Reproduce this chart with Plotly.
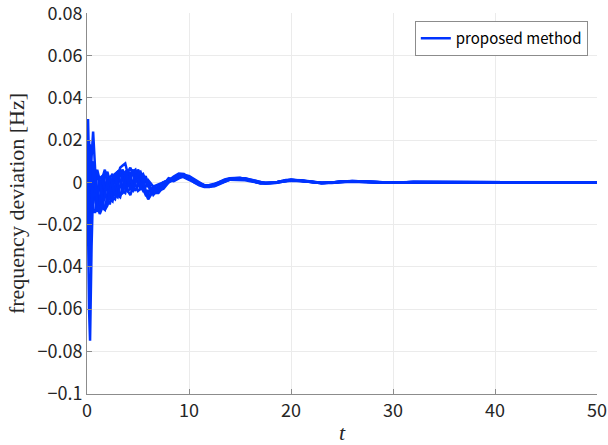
import plotly.graph_objects as go

# time samples [s]
t = [0, 0.1, 0.2, 0.3, 0.45, 0.6, 0.8, 1.0, 1.25, 1.5, 1.75, 2.0, 2.25, 2.5, 2.75,
     3.0, 3.25, 3.5, 3.75, 4.0, 4.25, 4.5, 4.75, 5.0, 5.25, 5.5, 5.75, 6.0, 6.5,
     7.0, 7.5, 8.0,
     8.5, 9, 9.5, 10, 10.5, 11, 11.5, 12, 12.5, 13, 13.5, 14, 14.5, 15, 15.5, 16,
     16.5, 17, 17.5, 18, 18.5, 19, 19.5, 20, 21, 22, 23, 24, 25, 26, 28, 30, 32,
     35, 40, 45, 50]

# frequency deviation of each generator [Hz]
gen1 = [0, 0.030, 0.008, -0.012, -0.010, 0.004, 0.006, -0.004, -0.010, -0.006, 0.003,
        0.005, 0.000, -0.007, -0.008, -0.002, 0.004, 0.006, 0.002, -0.004, -0.006,
        -0.002, 0.003, 0.005, 0.002, -0.003, -0.006, -0.005, -0.002, -0.001, 0.000, 0.001,
        0.0018, 0.0030, 0.0034, 0.0022, 0.0006, -0.0008, -0.0016, -0.0018, -0.0012,
        -0.0002, 0.0009, 0.0016, 0.0017, 0.0019, 0.0016, 0.0010, 0.0003, -0.0002,
        -0.0003, -0.0003, -0.0001, 0.0004, 0.0009, 0.0011, 0.0008, 0.0002, -0.0003,
        -0.0001, 0.0004, 0.0005, 0.0001, -0.0002, 0.0002, 0.0001, 0.0, 0.0, 0.0]
gen2 = [0, -0.020, -0.060, -0.075, -0.030, -0.002, -0.006, -0.012, -0.014, -0.008, -0.002,
        0.002, -0.002, -0.006, -0.004, 0.001, 0.004, 0.003, -0.001, -0.004, -0.003,
        0.001, 0.004, 0.003, 0.000, -0.003, -0.004, -0.004, -0.003, -0.002, 0.000, 0.001,
        0.0008, 0.0022, 0.0029, 0.0024, 0.0010, -0.0004, -0.0012, -0.0015, -0.0012,
        -0.0004, 0.0005, 0.0012, 0.0014, 0.0015, 0.0014, 0.0010, 0.0004, -0.0001,
        -0.0003, -0.0003, -0.0002, 0.0002, 0.0007, 0.0009, 0.0008, 0.0003, -0.0002,
        -0.0002, 0.0003, 0.0004, 0.0002, -0.0001, 0.0001, 0.0001, 0.0, 0.0, 0.0]
gen3 = [0, 0.005, -0.008, -0.004, 0.012, 0.024, 0.006, -0.008, -0.012, -0.004, 0.004,
        0.002, -0.004, -0.008, -0.003, 0.003, 0.007, 0.008, 0.009, 0.004, -0.001,
        -0.002, 0.002, 0.006, 0.004, -0.001, -0.005, -0.008, -0.004, -0.003, -0.001, 0.001,
        0.0028, 0.0042, 0.0040, 0.0020, 0.0000, -0.0014, -0.0022, -0.0022, -0.0012,
        0.0002, 0.0014, 0.0020, 0.0020, 0.0022, 0.0016, 0.0008, 0.0000, -0.0005,
        -0.0005, -0.0004, 0.0000, 0.0006, 0.0011, 0.0012, 0.0007, 0.0000, -0.0004,
        -0.0001, 0.0005, 0.0005, 0.0000, -0.0002, 0.0002, 0.0001, 0.0, 0.0, 0.0]
gen4 = [0, 0.012, 0.020, 0.006, -0.014, -0.012, 0.000, 0.004, -0.002, -0.012, -0.013,
        -0.006, 0.002, 0.004, 0.000, -0.006, -0.007, -0.002, 0.004, 0.006, 0.003,
        -0.002, -0.004, -0.001, 0.003, 0.004, 0.001, -0.002, -0.005, -0.004, -0.001, 0.002,
        0.0014, 0.0026, 0.0031, 0.0021, 0.0006, -0.0007, -0.0014, -0.0016, -0.0011,
        -0.0002, 0.0008, 0.0014, 0.0016, 0.0017, 0.0015, 0.0009, 0.0003, -0.0002,
        -0.0003, -0.0002, -0.0001, 0.0004, 0.0008, 0.0010, 0.0007, 0.0002, -0.0003,
        -0.0001, 0.0003, 0.0004, 0.0001, -0.0001, 0.0002, 0.0001, 0.0, 0.0, 0.0]
gen5 = [0, -0.010, 0.010, 0.018, 0.002, -0.014, -0.014, -0.006, 0.002, 0.003, -0.004,
        -0.010, -0.010, -0.003, 0.004, 0.005, 0.001, -0.004, -0.005, -0.001, 0.004,
        0.006, 0.003, -0.001, -0.003, -0.002, 0.001, 0.000, -0.005, -0.005, -0.002, 0.000,
        0.0012, 0.0028, 0.0037, 0.0028, 0.0011, -0.0006, -0.0016, -0.0020, -0.0016,
        -0.0006, 0.0006, 0.0015, 0.0018, 0.0020, 0.0018, 0.0012, 0.0005, -0.0001,
        -0.0004, -0.0004, -0.0002, 0.0003, 0.0009, 0.0012, 0.0009, 0.0003, -0.0003,
        -0.0002, 0.0004, 0.0006, 0.0002, -0.0002, 0.0002, 0.0001, 0.0, 0.0, 0.0]
gen6 = [0, 0.020, -0.015, -0.020, 0.006, 0.010, -0.004, -0.014, -0.008, 0.002, 0.006,
        0.000, -0.008, -0.009, -0.002, 0.005, 0.006, 0.001, -0.003, -0.002, 0.002,
        0.005, 0.006, 0.002, -0.002, -0.004, -0.002, 0.001, -0.002, -0.004, -0.003, 0.000,
        0.0022, 0.0028, 0.0024, 0.0012, 0.0000, -0.0010, -0.0014, -0.0012, -0.0006,
        0.0002, 0.0010, 0.0013, 0.0012, 0.0013, 0.0010, 0.0005, 0.0000, -0.0003,
        -0.0002, -0.0002, 0.0000, 0.0004, 0.0007, 0.0008, 0.0005, 0.0000, -0.0002,
        0.0000, 0.0003, 0.0003, 0.0000, -0.0001, 0.0001, 0.0, 0.0, 0.0, 0.0]
gen7 = [0, -0.005, 0.015, 0.010, -0.006, -0.010, 0.002, 0.006, 0.001, -0.008,
        -0.013, -0.011, -0.004, 0.002, 0.003, -0.002, -0.006, -0.005, 0.000, 0.005,
        0.007, 0.004, -0.001, -0.004, -0.003, 0.001, 0.003, -0.001, -0.006, -0.003,
        0.000, 0.001,
        0.0020, 0.0034, 0.0036, 0.0020, 0.0003, -0.0011, -0.0019, -0.0020, -0.0013,
        -0.0001, 0.0011, 0.0018, 0.0019, 0.0021, 0.0017, 0.0009, 0.0001, -0.0004,
        -0.0004, -0.0003, 0.0000, 0.0005, 0.0010, 0.0012, 0.0008, 0.0001, -0.0004,
        -0.0001, 0.0004, 0.0005, 0.0001, -0.0002, 0.0002, 0.0001, 0.0, 0.0, 0.0]
gen8 = [0, 0.008, -0.025, -0.040, -0.012, 0.008, 0.002, -0.010, -0.015, -0.012,
        -0.006, 0.000, 0.003, -0.001, -0.006, -0.007, -0.002, 0.004, 0.005, 0.001,
        -0.003, -0.004, 0.000, 0.004, 0.005, 0.002, -0.004, -0.007, -0.003, -0.004,
        -0.002, 0.001,
        0.0006, 0.0020, 0.0032, 0.0030, 0.0015, -0.0002, -0.0014, -0.0020, -0.0018,
        -0.0008, 0.0004, 0.0013, 0.0018, 0.0020, 0.0019, 0.0014, 0.0007, 0.0000,
        -0.0004, -0.0004, -0.0003, 0.0002, 0.0008, 0.0011, 0.0010, 0.0004, -0.0002,
        -0.0003, 0.0003, 0.0006, 0.0003, -0.0002, 0.0001, 0.0001, 0.0, 0.0, 0.0]

generators = [gen1, gen2, gen3, gen4, gen5, gen6, gen7, gen8]

y_ticks = [0.08, 0.06, 0.04, 0.02, 0, -0.02, -0.04, -0.06, -0.08, -0.1]
y_tick_text = ["0.08", "0.06", "0.04", "0.02", "0", "\u22120.02", "\u22120.04",
               "\u22120.06", "\u22120.08", "\u22120.1"]
x_ticks = [0, 10, 20, 30, 40, 50]

BLUE = "rgb(0,51,255)"

fig = go.Figure()
for i, g in enumerate(generators):
    fig.add_trace(go.Scatter(
        x=t, y=g, mode="lines",
        line=dict(color=BLUE, width=2.5),
        name="proposed method",
        showlegend=(i == 0),
    ))

axis_common = dict(
    showline=True, linecolor="#8c8c8c", linewidth=1,
    ticks="inside", ticklen=5, tickcolor="#8c8c8c",
    showgrid=True, gridcolor="#ebebeb", gridwidth=1,
    zeroline=False, mirror=False, automargin=False,
    ticklabeloverflow="allow",
    tickfont=dict(family="Noto Sans CJK JP", size=18, color="#262626"),
)

fig.update_xaxes(
    range=[0, 50], tickmode="array", tickvals=x_ticks,
    title=dict(text="<i>t</i>", font=dict(family="Liberation Serif", size=22, color="#262626"),
               standoff=4),
    **axis_common,
)
fig.update_yaxes(
    range=[-0.1002, 0.0802], tickmode="array", tickvals=y_ticks, ticktext=y_tick_text,
    title=dict(text="frequency deviation [Hz]",
               font=dict(family="Liberation Serif", size=22, color="#262626"),
               standoff=6),
    **axis_common,
)

fig.update_layout(
    width=608, height=445,
    margin=dict(l=87, r=11, t=13, b=51),
    paper_bgcolor="white", plot_bgcolor="white",
    showlegend=True,
    legend=dict(
        x=0.982, y=0.979, xanchor="right", yanchor="top",
        bgcolor="white", bordercolor="#8c8c8c", borderwidth=1,
        font=dict(family="Noto Sans CJK JP", size=15, color="#000000"),
        itemwidth=30, tracegroupgap=0,
    ),
)

fig.write_html("out.html")
